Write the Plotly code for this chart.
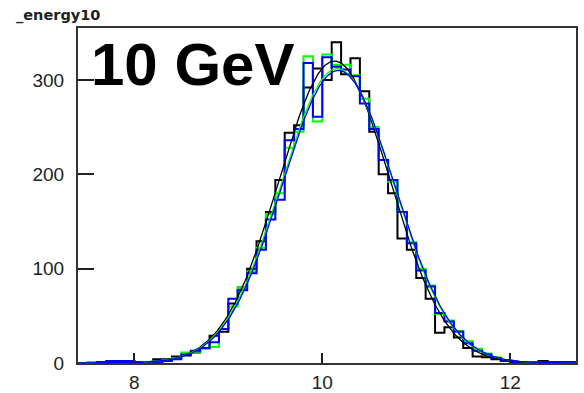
import plotly.graph_objects as go
import numpy as np

# Histogram binning (bin edges every 0.1 GeV)
bin_lo = 7.4
bin_w = 0.1
n_bins = 53

black_counts = [0, 0, 0, 0, 1, 2, 1, 1, 4, 4, 7, 8, 11, 16, 29, 33, 63, 80, 100, 129,
                160, 194, 244, 252, 292, 312, 300, 340, 306, 323, 288, 245, 200, 180, 132,
                120, 90, 68, 32, 38, 27, 16, 7, 6, 4, 2, 0, 1, 0, 2, 1, 0, 0]
green_counts = [0, 1, 0, 1, 1, 2, 1, 1, 2, 3, 5, 11, 12, 15, 17, 36, 60, 80, 97, 122,
                158, 180, 228, 245, 325, 256, 327, 316, 316, 305, 280, 250, 215, 192, 160,
                128, 100, 82, 52, 45, 34, 23, 15, 10, 6, 2, 1, 1, 1, 1, 1, 1, 0]
blue_counts = [0, 0, 1, 2, 2, 2, 1, 1, 1, 2, 4, 9, 13, 16, 22, 36, 68, 77, 95, 120,
               152, 173, 236, 248, 318, 261, 324, 314, 311, 304, 275, 248, 215, 194, 160,
               127, 98, 81, 53, 44, 33, 21, 13, 9, 5, 2, 1, 1, 1, 1, 1, 1, 1]

# Gaussian fit parameters (amplitude, mean, sigma)
black_fit = (320, 10.13, 0.59)
green_fit = (312, 10.16, 0.60)
blue_fit = (310, 10.17, 0.60)

x_ticks = [8, 10, 12]
y_ticks = [0, 100, 200, 300]
title_text = "_energy10"
label_text = "10 GeV"

edges = [bin_lo + bin_w * i for i in range(n_bins + 1)]
x_min, x_max = edges[0], edges[-1]

fig = go.Figure()

def add_hist(counts, color):
    xs = list(edges)
    ys = list(counts) + [counts[-1]]
    fig.add_trace(go.Scatter(x=xs, y=ys, mode="lines", line=dict(color=color, width=2, shape="hv"),
                             showlegend=False, hoverinfo="skip"))

def add_fit(p, color):
    a, m, s = p
    xs = np.linspace(x_min, x_max, 400)
    ys = a * np.exp(-0.5 * ((xs - m) / s) ** 2)
    fig.add_trace(go.Scatter(x=xs, y=ys, mode="lines", line=dict(color=color, width=1.3),
                             showlegend=False, hoverinfo="skip"))

add_hist(black_counts, "#000000")
add_hist(green_counts, "#00ff00")
add_hist(blue_counts, "#0000ff")
add_fit(black_fit, "#000000")
add_fit(green_fit, "#00ff00")
add_fit(blue_fit, "#0000ff")

axis_font = dict(family="Liberation Sans, Arial, sans-serif", size=19, color="#222222")

fig.update_layout(
    width=584, height=393,
    margin=dict(l=78, r=8, t=28, b=30),
    paper_bgcolor="white", plot_bgcolor="white",
    xaxis=dict(range=[x_min, x_max], tickvals=x_ticks, ticks="inside", ticklen=10, tickwidth=1.5,
               tickcolor="#222222", showline=True, linecolor="#333333", linewidth=2, mirror=True,
               showgrid=False, zeroline=False, tickfont=axis_font, ticklabelstandoff=1,
               automargin=False),
    yaxis=dict(range=[0, 355], tickvals=y_ticks, ticks="inside", ticklen=16, tickwidth=1.5,
               tickcolor="#222222", showline=True, linecolor="#333333", linewidth=2, mirror=True,
               showgrid=False, zeroline=False, tickfont=axis_font, ticklabelstandoff=8,
               automargin=False),
    annotations=[
        dict(text=label_text, xref="paper", yref="paper", x=0.022, y=0.89, xanchor="left",
             yanchor="middle", showarrow=False,
             font=dict(family="Liberation Sans, Arial, sans-serif", size=60, color="black", weight="bold")),
        dict(text=title_text, xref="paper", yref="paper", x=-0.128, y=1.036, xanchor="left",
             yanchor="middle", showarrow=False,
             font=dict(family="DejaVu Sans, sans-serif", size=14.5, color="#222222", weight="bold")),
    ],
)

fig.write_html("out.html")
